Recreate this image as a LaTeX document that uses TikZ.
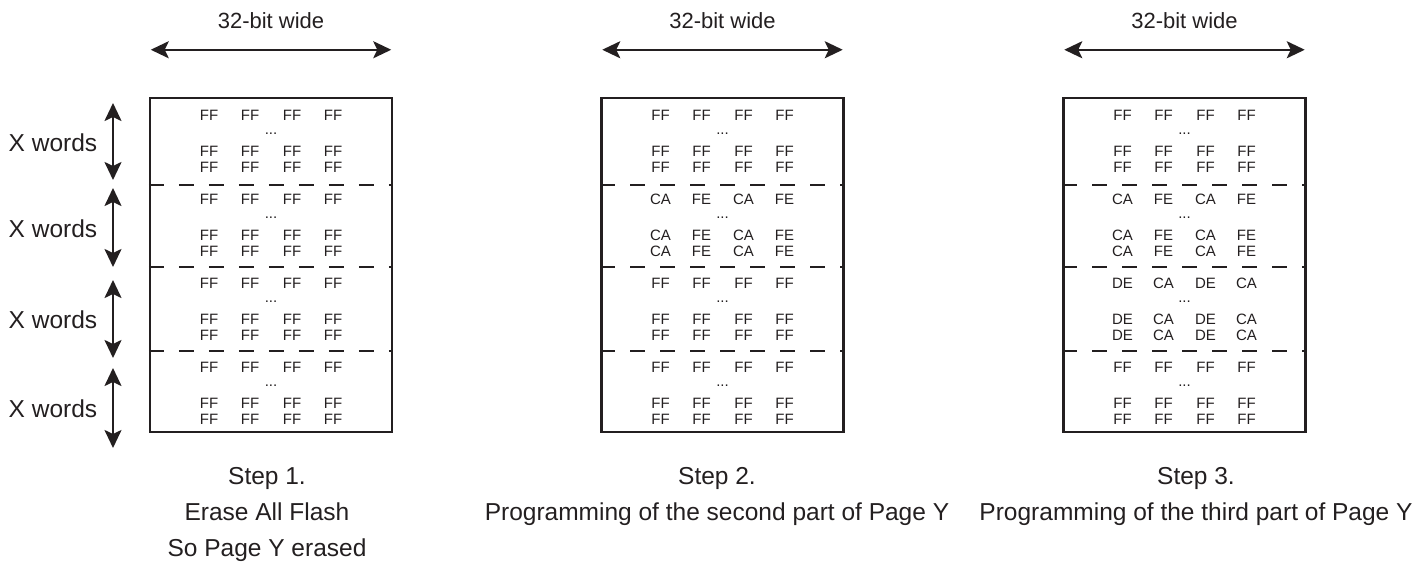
\documentclass[tikz,border=0pt]{standalone}
\usepackage{fontspec}
\setmainfont{Liberation Sans}
\usetikzlibrary{arrows.meta,calc,positioning}

\definecolor{ink}{HTML}{231F20}
\tikzset{
  pagebox/.style={draw=ink, line width=2.5pt, minimum width=242pt, minimum height=334pt, inner sep=0pt},
  sepline/.style={draw=ink, dash pattern=on 15pt off 15pt, line width=2.2pt},
  widthspan/.style={draw=ink, fill=ink, {Stealth[length=18pt,width=17pt,inset=4pt]}-{Stealth[length=18pt,width=17pt,inset=4pt]}, line width=2.2pt},
  lbl/.style={text=ink, font=\fontsize{24.5}{36}\selectfont, inner sep=0pt},
  toplbl/.style={lbl, font=\fontsize{22}{26}\selectfont},
  byte/.style={text=ink, font=\fontsize{15}{15}\selectfont, inner sep=0pt},
}

\begin{document}
\begin{tikzpicture}[x=1pt,y=-1pt]
  \useasboundingbox (0,0) rectangle (1422,563);
  \foreach \p/\cx in {1/271, 2/722.5, 3/1184.5} {
    \node[pagebox] (page\p) at (\cx,265) {};
    \foreach \y in {185,267,351}
      \draw[sepline] (page\p.west |- 0,\y) -- (page\p.east |- 0,\y);
    \coordinate (wl\p) at ($(page\p.north west)+(2,-47)$);
    \coordinate (wr\p) at ($(page\p.north east)+(-2,-47)$);
    \draw[widthspan] (wl\p) -- (wr\p);
    \node[toplbl] (wide\p) at ($(wl\p)!0.5!(wr\p)+(0,-29)$) {32-bit wide};
  }
  \node[lbl, align=center, anchor=north] (step1) at (267,467) {Step 1.\\Erase All Flash\\So Page Y erased};
  \node[lbl, align=center, anchor=north] (step2) at (717,467) {Step 2.\\Programming of the second part of Page Y};
  \node[lbl, align=center, anchor=north] (step3) at (1196,467) {Step 3.\\Programming of the third part of Page Y};
  \foreach \k/\ya/\yb in {1/103/180, 2/188/267, 3/280/358, 4/368/448} {
    \coordinate (xt\k) at (113,\ya);
    \coordinate (xb\k) at (113,\yb);
    \draw[widthspan] (xt\k) -- (xb\k);
    \node[lbl] (xw\k) at ($(xt\k)!0.5!(xb\k)+(-60,1)$) {X words};
  }
  \foreach \p/\s/\a/\b in {1/1/FF/FF, 1/2/FF/FF, 1/3/FF/FF, 1/4/FF/FF,
                           2/1/FF/FF, 2/2/CA/FE, 2/3/FF/FF, 2/4/FF/FF,
                           3/1/FF/FF, 3/2/CA/FE, 3/3/DE/CA, 3/4/FF/FF} {
    \pgfmathsetmacro{\ytop}{{115,199,283,367}[\s-1]}
    \foreach \r/\dy in {1/0, 2/36, 3/52}
      \foreach \c/\dx/\t in {1/-62/\a, 2/-21/\b, 3/21/\a, 4/62/\b}
        \node[byte] (b\p-\s-\r-\c) at ($(page\p.center |- 0,\ytop)+(\dx,\dy)$) {\t};
    \node[byte, anchor=base] (dots\p-\s) at ($(page\p.center |- 0,\ytop)+(0,19)$) {...};
  }
\end{tikzpicture}
\end{document}
